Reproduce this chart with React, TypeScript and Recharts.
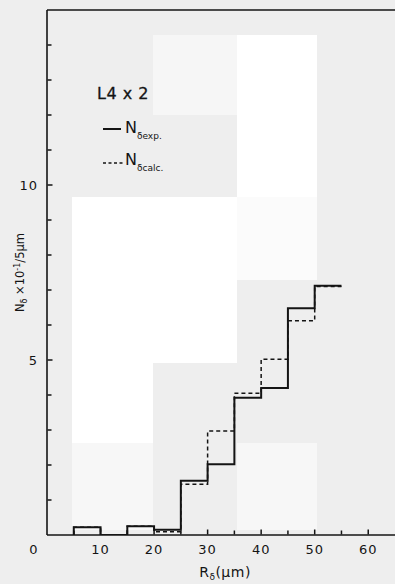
import React from 'react';
import { ComposedChart, Line, XAxis, YAxis, ReferenceLine, Legend, Label } from 'recharts';

// ---- data ----
const binStarts = [5, 10, 15, 20, 25, 30, 35, 40, 45, 50];
const binWidth = 5;
const expValues = [0.22, 0, 0.25, 0.15, 1.55, 2.02, 3.92, 4.2, 6.48, 7.12];
const calcValues = [0.22, 0, 0.25, 0.09, 1.45, 2.97, 4.05, 5.02, 6.12, 7.1];
const xTicks = [0, 5, 10, 15, 20, 25, 30, 35, 40, 45, 50, 55, 60, 65];
const xTickLabels = [0, 10, 20, 30, 40, 50, 60];
const yTicks = [0, 1, 2, 3, 4, 5, 6, 7, 8, 9, 10, 11, 12, 13, 14, 15];
const yTickLabels = [5, 10];
const panelTitle = 'L4 x 2';

const X_MAX = 65;
const Y_MAX = 15;

const last = binStarts.length - 1;
const rows = [
  { x: binStarts[0], exp: 0, calc: 0 },
  ...binStarts.map((s, i) => ({ x: s, exp: expValues[i], calc: calcValues[i] })),
  { x: binStarts[last] + binWidth, exp: expValues[last], calc: calcValues[last] },
];

const FONT = '"DejaVu Sans", sans-serif';
const INK = '#141414';

// scanned-page background blocks (decoration only)
const bgBlocks = [
  { l: 72, t: 197, w: 81, h: 246, c: '#ffffff' },
  { l: 72, t: 443, w: 81, h: 87, c: '#f7f7f7' },
  { l: 153, t: 35, w: 84, h: 80, c: '#f6f6f6' },
  { l: 153, t: 197, w: 84, h: 166, c: '#ffffff' },
  { l: 237, t: 35, w: 80, h: 162, c: '#ffffff' },
  { l: 237, t: 197, w: 80, h: 83, c: '#fbfbfb' },
  { l: 237, t: 443, w: 80, h: 87, c: '#f7f7f7' },
];

const XTick = (props: any) => {
  const { x, y, payload } = props;
  const v = payload.value;
  const major = xTickLabels.includes(v);
  const mark = v > 0 && v < X_MAX;
  const len = major ? 5 : 4;
  return (
    <g>
      {mark && <rect x={x - 0.75} y={y - len - 0.5} width={1.5} height={len} fill={INK} />}
      {major && (
        <text
          x={x + (v === 0 ? -13 : 0)}
          y={y + 19}
          textAnchor="middle"
          fontSize={13}
          fontFamily={FONT}
          letterSpacing={1}
          fill={INK}
        >
          {v}
        </text>
      )}
    </g>
  );
};

const YTick = (props: any) => {
  const { x, y, payload } = props;
  const v = payload.value;
  const major = yTickLabels.includes(v);
  const mark = v > 0 && v < Y_MAX;
  const len = major ? 5 : 4;
  return (
    <g>
      {mark && <rect x={x + 0.5} y={y - 0.75} width={len} height={1.5} fill={INK} />}
      {major && (
        <text x={x - 9} y={y + 4.5} textAnchor="end" fontSize={13} fontFamily={FONT} letterSpacing={1} fill={INK}>
          {v}
        </text>
      )}
    </g>
  );
};

const YTitle = (props: any) => {
  const vb = props.viewBox || { x: 0, y: 10, width: 47, height: 525 };
  const cx = vb.x + 24;
  const cy = vb.y + vb.height / 2;
  return (
    <text
      x={cx}
      y={cy}
      transform={`rotate(-90 ${cx} ${cy})`}
      textAnchor="middle"
      fontSize={11.5}
      fontFamily={FONT}
      fill={INK}
    >
      <tspan>N</tspan>
      <tspan fontSize={8} dy={3}>δ</tspan>
      <tspan dy={-3}> ×10</tspan>
      <tspan fontSize={8} dy={-4}>-1</tspan>
      <tspan dy={4}>/5µm</tspan>
    </text>
  );
};

const XTitle = (props: any) => {
  const vb = props.viewBox || { x: 47, y: 535, width: 348, height: 49 };
  const cx = vb.x + vb.width / 2 + 4;
  const cy = vb.y + 42;
  return (
    <text x={cx} y={cy} textAnchor="middle" fontSize={14} fontFamily={FONT} letterSpacing={0.5} fill={INK}>
      <tspan>R</tspan>
      <tspan fontSize={9} dy={3}>δ</tspan>
      <tspan dy={-3}>(µm)</tspan>
    </text>
  );
};

const renderLegend = () => (
  <div style={{ position: 'relative', width: 90, height: 100, fontFamily: FONT, color: INK }}>
    <div
      style={{
        position: 'absolute',
        left: 7,
        top: 4,
        fontSize: 16,
        lineHeight: '16px',
        letterSpacing: 0.5,
        whiteSpace: 'nowrap',
        WebkitTextStroke: '0.3px #141414',
      }}
    >
      {panelTitle}
    </div>
    <svg style={{ position: 'absolute', left: 13, top: 44 }} width={20} height={6}>
      <line x1={0} x2={18} y1={3} y2={3} stroke={INK} strokeWidth={2} />
    </svg>
    <div style={{ position: 'absolute', left: 35, top: 38, fontSize: 16, lineHeight: '16px', whiteSpace: 'nowrap' }}>
      N<span style={{ fontSize: 9, position: 'relative', top: 6 }}>δexp.</span>
    </div>
    <svg style={{ position: 'absolute', left: 13, top: 78 }} width={22} height={6}>
      <line x1={0} x2={20} y1={3} y2={3} stroke={INK} strokeWidth={1.5} strokeDasharray="3 2.5" />
    </svg>
    <div style={{ position: 'absolute', left: 35, top: 70, fontSize: 16, lineHeight: '16px', whiteSpace: 'nowrap' }}>
      N<span style={{ fontSize: 9, position: 'relative', top: 6 }}>δcalc.</span>
    </div>
  </div>
);

export default function App() {
  return (
    <div
      style={{
        position: 'absolute',
        left: 0,
        top: 0,
        width: 395,
        height: 584,
        background: '#eeeeee',
        overflow: 'hidden',
      }}
    >
      {bgBlocks.map((b, i) => (
        <div
          key={i}
          style={{ position: 'absolute', left: b.l, top: b.t, width: b.w, height: b.h, background: b.c }}
        />
      ))}
      <div style={{ position: 'absolute', left: 0, top: 0 }}>
        <ComposedChart width={395} height={584} data={rows} margin={{ top: 10, right: 0, bottom: 0, left: 0 }}>
          <XAxis
            dataKey="x"
            type="number"
            domain={[0, X_MAX]}
            ticks={xTicks}
            interval={0}
            tickSize={0}
            tickMargin={0}
            tickLine={false}
            tick={<XTick />}
            height={49}
            axisLine={{ stroke: INK, strokeWidth: 1.6 }}
            allowDataOverflow
          >
            <Label content={<XTitle />} />
          </XAxis>
          <YAxis
            type="number"
            domain={[0, Y_MAX]}
            ticks={yTicks}
            interval={0}
            tickSize={0}
            tickMargin={0}
            tickLine={false}
            tick={<YTick />}
            width={47}
            axisLine={{ stroke: INK, strokeWidth: 1.6 }}
            allowDataOverflow
          >
            <Label content={<YTitle />} />
          </YAxis>
          <ReferenceLine y={Y_MAX} stroke={INK} strokeWidth={1.6} />
          <Legend
            layout="vertical"
            align="center"
            verticalAlign="middle"
            content={renderLegend}
            wrapperStyle={{ left: 90, top: 82, width: 90, height: 100 }}
          />
          <Line
            type="stepAfter"
            dataKey="calc"
            stroke={INK}
            strokeWidth={1.5}
            strokeDasharray="4 3"
            dot={false}
            activeDot={false}
            isAnimationActive={false}
            legendType="none"
          />
          <Line
            type="stepAfter"
            dataKey="exp"
            stroke={INK}
            strokeWidth={2}
            dot={false}
            activeDot={false}
            isAnimationActive={false}
            legendType="none"
          />
        </ComposedChart>
      </div>
    </div>
  );
}
